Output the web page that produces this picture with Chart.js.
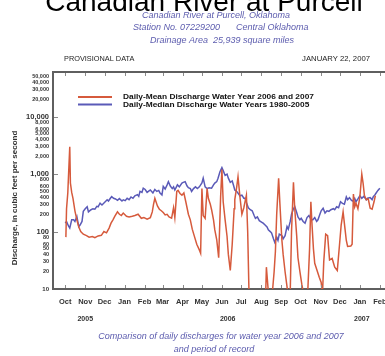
<!DOCTYPE html>
<html>
<head>
<meta charset="utf-8">
<script src="https://cdn.jsdelivr.net/npm/chart.js@4/dist/chart.umd.min.js"></script>
<style>
  html, body { margin: 0; padding: 0; background: #fff; overflow: hidden; }
  canvas { display: block; }
</style>
</head>
<body>
<canvas id="flow" width="385" height="356"></canvas>
<script>
// Days are counted from Oct 1, 2005 (start of water year 2006).
const monthLabels = ['Oct','Nov','Dec','Jan','Feb','Mar','Apr','May','Jun','Jul','Aug','Sep','Oct','Nov','Dec','Jan','Feb'];
const monthStartDays = [0,31,61,92,123,151,182,212,243,273,304,335,365,396,426,457,488];
const yearLabels = ['2005','2006','2007'];
const yearLabelDays = [31,252,460];
const yTickValues = [10,20,30,40,50,60,80,100,200,300,400,500,600,800,1000,2000,3000,4000,5000,6000,8000,10000,20000,30000,40000,50000];

// Daily-mean discharge, water years 2006 and 2007 (cfs)
const meanDays = [
  1,2,4,5,7,8,10,12,15,18,21,24,28,33,37,42,46,51,56,60,
  64,68,71,74,77,81,84,87,90,95,99,104,108,113,118,122,127,132,135,137,
  139,143,146,149,152,155,158,161,165,168,170,173,175,178,181,184,187,191,194,197,
  200,204,208,210,212,214,217,220,222,225,227,230,232,235,238,241,243,245,248,251,
  253,256,259,262,263,266,268,271,274,277,281,283,285,297,305,311,312,315,321,324,
  326,328,331,333,336,338,341,345,349,351,354,356,359,361,364,367,370,376,379,381,
  383,385,387,390,394,397,399,401,404,407,410,414,418,422,426,428,431,434,436,438,
  443,445,447,449,451,454,457,460,462,464,467,470,473,476,479,481
];
const meanFlow = [
  80,250,480,900,3000,700,480,380,230,160,120,100,90,85,80,82,78,84,86,100,
  95,115,140,160,185,220,200,190,210,185,180,185,190,200,170,175,165,175,220,300,
  380,280,245,230,215,195,200,180,171,260,175,500,520,460,430,470,330,200,160,110,
  85,60,48,42,560,190,170,560,380,300,240,160,107,72,35,400,1200,330,160,82,
  40,21,60,250,360,600,900,400,200,260,430,100,9,8,8,9,24,9,8,20,
  45,200,850,300,72,40,20,9,9,100,720,250,85,35,20,12,8,8,50,330,
  120,50,28,22,16,13,8,30,90,85,32,34,24,21,70,130,220,110,70,55,
  56,60,450,270,312,250,400,1000,700,430,357,370,255,245,330,420
];

// Daily-median discharge, water years 1980-2005 (cfs)
const medianDays = [
  0,2,5,7,10,13,15,18,21,23,26,28,31,34,36,40,43,46,49,51,
  54,57,62,65,67,70,72,75,78,81,84,88,90,93,96,99,102,105,108,112,
  114,116,119,121,124,127,130,132,136,139,142,145,147,150,152,155,158,160,163,166,
  168,170,174,177,181,183,186,189,191,194,196,199,202,205,208,212,214,217,220,223,
  227,230,232,235,237,240,243,245,248,251,253,256,259,261,263,266,269,271,274,277,
  279,281,284,287,290,293,295,298,301,305,307,310,313,315,318,320,323,325,328,330,
  332,336,338,341,344,346,349,351,354,356,359,361,364,366,369,372,375,378,381,384,
  387,390,392,395,397,400,403,406,409,412,416,418,421,424,427,430,433,436,438,441,
  444,446,449,451,454,457,460,463,467,469,473,476,478,480,482,485,488
];
const medianFlow = [
  140,150,125,115,160,160,150,183,122,130,150,225,250,270,220,240,250,245,275,270,
  312,290,330,357,340,380,405,380,370,350,375,340,357,345,380,360,400,380,420,440,
  410,500,480,570,540,480,510,530,470,540,500,520,470,435,610,550,650,740,620,560,
  600,530,650,600,700,720,740,620,580,560,500,560,600,560,600,700,850,600,560,580,
  570,650,700,740,850,1100,1300,1150,950,1000,850,720,760,640,530,500,450,420,430,380,
  380,320,260,240,230,190,170,180,155,145,140,130,120,107,100,95,75,65,80,70,
  90,85,75,85,122,110,150,200,250,272,215,180,160,170,150,140,175,190,165,160,
  175,150,160,200,230,255,210,230,225,240,250,240,270,260,330,310,300,400,360,390,
  350,340,380,330,370,420,380,410,357,380,390,360,410,430,465,520,570
];

const FONT = "'Liberation Sans', Arial, Helvetica, sans-serif";
const RED = '#d65a3c';
const BLUE = '#5a5ab8';
const AXIS = '#5f5f5f';
const TEXT = '#333333';
const NOTE = '#5c5cae';

const toPoints = (days, vals) => days.map((d, i) => ({ x: d, y: vals[i] }));

// draws text widened horizontally by sx, anchored per current textAlign
function wideText(ctx, text, x, y, sx) {
  ctx.save();
  ctx.translate(x, y);
  ctx.scale(sx, 1);
  ctx.fillText(text, 0, 0);
  ctx.restore();
}

// Header, legend, year row, caption, axis title and frame details
const decorations = {
  id: 'decorations',
  afterDraw(chart) {
    const { ctx, chartArea: a, scales: { x, y } } = chart;
    ctx.save();

    // top frame line
    ctx.strokeStyle = AXIS;
    ctx.lineWidth = 2;
    ctx.beginPath();
    ctx.moveTo(a.left, a.top);
    ctx.lineTo(a.right, a.top);
    ctx.stroke();

    // inward month tick marks on bottom and top
    ctx.lineWidth = 1;
    ctx.strokeStyle = '#8a8a8a';
    monthStartDays.forEach(d => {
      const px = Math.round(x.getPixelForValue(d)) + 0.5;
      ctx.beginPath();
      ctx.moveTo(px, a.bottom - 1); ctx.lineTo(px, a.bottom - 4);
      ctx.moveTo(px, a.top + 1); ctx.lineTo(px, a.top + 4);
      ctx.stroke();
    });
    // inward decade ticks on the y axis
    [100, 1000, 10000].forEach(v => {
      const py = Math.round(y.getPixelForValue(v)) + 0.5;
      ctx.beginPath();
      ctx.moveTo(a.left + 1, py); ctx.lineTo(a.left + 5, py);
      ctx.stroke();
    });

    // main title
    ctx.fillStyle = '#000';
    ctx.textAlign = 'center';
    ctx.textBaseline = 'alphabetic';
    ctx.font = `28px ${FONT}`;
    ctx.fillText('Canadian River at Purcell', 204, 10.5);

    // station block
    ctx.fillStyle = NOTE;
    ctx.font = `italic 9px ${FONT}`;
    ctx.fillText('Canadian River at Purcell, Oklahoma', 216, 18);
    ctx.textAlign = 'left';
    ctx.fillText('Station No. 07229200', 133, 30);
    ctx.fillText('Central Oklahoma', 236, 30);
    ctx.textAlign = 'center';
    ctx.fillText('Drainage Area  25,939 square miles', 222, 43);

    // provisional line
    ctx.fillStyle = '#222';
    ctx.font = `7px ${FONT}`;
    ctx.textAlign = 'left';
    wideText(ctx, 'PROVISIONAL DATA', 64, 61, 1.05);
    ctx.textAlign = 'right';
    wideText(ctx, 'JANUARY 22, 2007', 370, 61, 1.1);

    // legend
    const legend = [
      { color: RED, label: 'Daily-Mean Discharge Water Year 2006 and 2007', yPos: 97 },
      { color: BLUE, label: 'Daily-Median Discharge Water Years 1980-2005', yPos: 104.5 }
    ];
    ctx.textAlign = 'left';
    ctx.textBaseline = 'middle';
    ctx.font = `bold 7.4px ${FONT}`;
    legend.forEach(item => {
      ctx.strokeStyle = item.color;
      ctx.lineWidth = 2;
      ctx.beginPath();
      ctx.moveTo(78, item.yPos);
      ctx.lineTo(112, item.yPos);
      ctx.stroke();
      ctx.fillStyle = '#111';
      wideText(ctx, item.label, 123, item.yPos, 1.13);
    });

    // year row under the month labels
    ctx.fillStyle = TEXT;
    ctx.textAlign = 'center';
    ctx.font = `bold 7px ${FONT}`;
    yearLabels.forEach((t, i) => {
      ctx.fillText(t, x.getPixelForValue(yearLabelDays[i]), 319);
    });

    // caption
    ctx.fillStyle = NOTE;
    ctx.font = `italic 9px ${FONT}`;
    ctx.textBaseline = 'alphabetic';
    ctx.fillText('Comparison of daily discharges for water year 2006 and 2007', 221, 339);
    ctx.fillText('and period of record', 214, 352);

    // y axis title
    ctx.save();
    ctx.translate(15, 198);
    ctx.rotate(-Math.PI / 2);
    ctx.fillStyle = TEXT;
    ctx.font = `bold 8px ${FONT}`;
    ctx.textAlign = 'center';
    ctx.textBaseline = 'middle';
    ctx.fillText('Discharge, in cubic feet per second', 0, 0);
    ctx.restore();

    ctx.restore();
  }
};

new Chart(document.getElementById('flow'), {
  type: 'line',
  data: {
    datasets: [
      {
        label: 'Daily-Mean Discharge Water Year 2006 and 2007',
        data: toPoints(meanDays, meanFlow),
        borderColor: RED,
        borderWidth: 1.5,
        pointRadius: 0,
        tension: 0,
        clip: 0
      },
      {
        label: 'Daily-Median Discharge Water Years 1980-2005',
        data: toPoints(medianDays, medianFlow),
        borderColor: BLUE,
        borderWidth: 1.5,
        pointRadius: 0,
        tension: 0,
        clip: 0
      }
    ]
  },
  options: {
    responsive: false,
    animation: false,
    devicePixelRatio: 1,
    layout: { padding: { top: 72, left: 0, right: 0, bottom: 0 } },
    plugins: { legend: { display: false }, tooltip: { enabled: false }, title: { display: false } },
    scales: {
      x: {
        type: 'linear',
        min: -19,
        max: 496,
        grid: { display: true, drawOnChartArea: false, drawTicks: false },
        border: { color: AXIS, width: 2 },
        afterBuildTicks: s => { s.ticks = monthStartDays.map(v => ({ value: v })); },
        afterFit: s => { s.height = 67; s.paddingLeft = 0; s.paddingRight = 0; },
        ticks: {
          autoSkip: false,
          maxRotation: 0,
          padding: 8,
          color: TEXT,
          font: { family: FONT, size: 7.5, weight: 'bold' },
          callback: (v, i) => monthLabels[i]
        }
      },
      y: {
        type: 'logarithmic',
        min: 10,
        max: 60000,
        grid: { display: true, drawOnChartArea: false, drawTicks: false },
        border: { color: AXIS, width: 2 },
        afterBuildTicks: s => { s.ticks = yTickValues.map(v => ({ value: v })); },
        afterFit: s => { s.width = 53; s.paddingTop = 0; s.paddingBottom = 0; },
        ticks: {
          autoSkip: false,
          padding: 4,
          color: TEXT,
          font: c => {
            const v = c.tick ? c.tick.value : 0;
            const big = v === 100 || v === 1000 || v === 10000;
            return { family: FONT, weight: 'bold', size: big ? 7.5 : (v === 10 ? 6 : 5.5) };
          },
          callback: v => Number(v).toLocaleString('en-US')
        }
      }
    }
  },
  plugins: [decorations]
});
</script>
</body>
</html>
